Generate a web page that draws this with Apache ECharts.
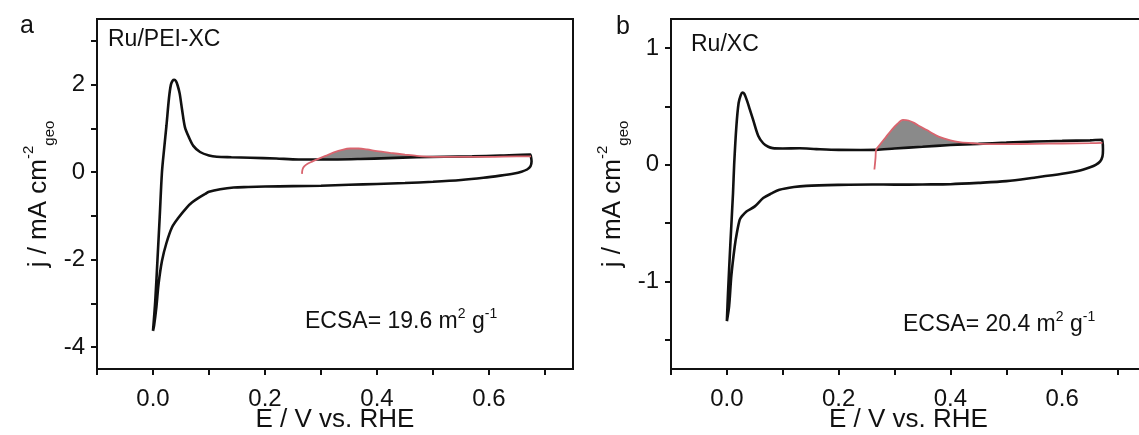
<!DOCTYPE html>
<html>
<head>
<meta charset="utf-8">
<script src="https://cdn.jsdelivr.net/npm/echarts@6/dist/echarts.min.js"></script>
<style>
  html, body { margin: 0; padding: 0; background: #fff; }
  #chart { width: 1139px; height: 435px; }
</style>
</head>
<body>
<div id="chart"></div>
<script>
// ---- Ru/PEI-XC: CV in N2 (E / V vs. RHE, j / mA cm-2) ----
// anodic sweep: from the lower vertex through the H-desorption peak to the upper vertex
const cvA_anodic = [
  [0.000, -3.63], [0.004, -2.95], [0.008, -2.00], [0.012, -1.02], [0.016, 0.00],
  [0.020, 0.55], [0.024, 1.06], [0.0286, 1.70], [0.032, 2.00], [0.035, 2.09],
  [0.038, 2.11], [0.041, 2.08], [0.044, 1.98], [0.0476, 1.80], [0.052, 1.42],
  [0.057, 1.03], [0.064, 0.80], [0.072, 0.60], [0.084, 0.46], [0.100, 0.38],
  [0.114, 0.35], [0.140, 0.34], [0.174, 0.33], [0.220, 0.31], [0.260, 0.29],
  [0.293, 0.29], [0.330, 0.29], [0.370, 0.30], [0.420, 0.32], [0.471, 0.34],
  [0.520, 0.35], [0.570, 0.36], [0.620, 0.38], [0.674, 0.40]
];
// cathodic sweep: from the upper vertex back to the lower vertex
const cvA_cathodic = [
  [0.675, 0.40], [0.676, 0.25], [0.674, 0.13], [0.668, 0.06], [0.658, 0.01],
  [0.645, -0.03], [0.620, -0.08], [0.590, -0.13], [0.550, -0.18], [0.500, -0.22],
  [0.450, -0.25], [0.400, -0.27], [0.350, -0.29], [0.300, -0.31], [0.250, -0.32],
  [0.200, -0.33], [0.170, -0.34], [0.144, -0.35], [0.120, -0.39], [0.100, -0.45],
  [0.093, -0.50], [0.080, -0.60], [0.070, -0.69], [0.061, -0.80], [0.045, -1.05],
  [0.034, -1.26], [0.024, -1.62], [0.016, -2.03], [0.010, -2.55], [0.006, -3.09],
  [0.002, -3.50], [0.000, -3.63]
];
// CO-stripping sweep
const coA_strip = [
  [0.266, -0.04], [0.267, 0.06], [0.270, 0.13], [0.276, 0.19], [0.284, 0.24],
  [0.293, 0.29], [0.308, 0.37], [0.323, 0.45], [0.338, 0.51], [0.352, 0.54],
  [0.367, 0.54], [0.382, 0.52], [0.400, 0.48], [0.424, 0.44], [0.450, 0.40],
  [0.471, 0.37], [0.500, 0.35], [0.550, 0.35], [0.600, 0.35], [0.650, 0.36],
  [0.675, 0.36]
];
const shadeA = [0.293, 0.50];

// ---- Ru/XC ----
const cvB_anodic = [
  [0.000, -1.34], [0.002, -1.10], [0.006, -0.70], [0.011, -0.24], [0.013, 0.00],
  [0.017, 0.33], [0.021, 0.53], [0.025, 0.60], [0.028, 0.62], [0.031, 0.61],
  [0.036, 0.55], [0.041, 0.475], [0.047, 0.385], [0.056, 0.25], [0.065, 0.185],
  [0.074, 0.155], [0.082, 0.143], [0.100, 0.14], [0.130, 0.142], [0.160, 0.135],
  [0.200, 0.128], [0.240, 0.127], [0.267, 0.128], [0.300, 0.14], [0.350, 0.155],
  [0.400, 0.17], [0.450, 0.18], [0.500, 0.19], [0.550, 0.20], [0.600, 0.205],
  [0.650, 0.21], [0.672, 0.215]
];
const cvB_cathodic = [
  [0.673, 0.215], [0.673, 0.13], [0.672, 0.07], [0.668, 0.03], [0.660, 0.00],
  [0.650, -0.02], [0.630, -0.05], [0.600, -0.077], [0.550, -0.11], [0.500, -0.14],
  [0.450, -0.155], [0.400, -0.166], [0.350, -0.168], [0.300, -0.170], [0.260, -0.168],
  [0.200, -0.172], [0.142, -0.18], [0.120, -0.19], [0.094, -0.214], [0.080, -0.245],
  [0.065, -0.285], [0.050, -0.356], [0.035, -0.40], [0.027, -0.44], [0.023, -0.47],
  [0.018, -0.58], [0.014, -0.70], [0.008, -0.95], [0.004, -1.21], [0.000, -1.34]
];
const coB_strip = [
  [0.264, -0.04], [0.266, 0.06], [0.267, 0.128], [0.275, 0.18], [0.285, 0.24],
  [0.295, 0.30], [0.305, 0.35], [0.315, 0.385], [0.325, 0.38], [0.335, 0.36],
  [0.345, 0.33], [0.357, 0.30], [0.370, 0.265], [0.380, 0.24], [0.400, 0.21],
  [0.416, 0.195], [0.440, 0.185], [0.452, 0.18], [0.500, 0.178], [0.550, 0.180],
  [0.600, 0.183], [0.650, 0.186], [0.672, 0.188]
];
const shadeB = [0.267, 0.45];

// ---- axes ----
const xTicks = [-0.1, 0, 0.1, 0.2, 0.3, 0.4, 0.5, 0.6, 0.7];
const xLabels = [0, 0.2, 0.4, 0.6];
const yTicksA = [-4, -3, -2, -1, 0, 1, 2, 3];
const yLabelsA = [-4, -2, 0, 2];
const yTicksB = [-1.5, -1, -0.5, 0, 0.5, 1];
const yLabelsB = [-1, 0, 1];

const FONT = '"Liberation Sans", Arial, sans-serif';
const INK = '#111';

function xAxis(gridIndex) {
  return {
    type: 'value', gridIndex: gridIndex, min: -0.1, max: 0.75,
    name: 'E / V vs. RHE', nameLocation: 'middle', nameGap: 38, nameMoveOverlap: false,
    nameTextStyle: { fontFamily: FONT, fontSize: 26, color: INK },
    axisLine: { show: true, onZero: false, lineStyle: { color: INK, width: 2 } },
    axisTick: { show: true, inside: false, length: 6, customValues: xTicks, lineStyle: { color: INK, width: 2 } },
    axisLabel: { customValues: xLabels, margin: 18, fontFamily: FONT, fontSize: 24, color: INK,
                 formatter: v => v.toFixed(1) },
    splitLine: { show: false }
  };
}
function yAxis(gridIndex, min, max, ticks, labels) {
  return {
    type: 'value', gridIndex: gridIndex, min: min, max: max,
    name: '{m|j / mA cm}{sup|-2}{sub|geo}', nameLocation: 'middle', nameRotate: 90, nameGap: 40,
    nameMoveOverlap: false,
    nameTextStyle: {
      fontFamily: FONT, fontSize: 26, color: INK,
      rich: {
        m: { fontFamily: FONT, fontSize: 26, color: INK, lineHeight: 36, verticalAlign: 'middle' },
        sup: { fontFamily: FONT, fontSize: 15, color: INK, verticalAlign: 'top' },
        sub: { fontFamily: FONT, fontSize: 15, color: INK, verticalAlign: 'bottom' }
      }
    },
    axisLine: { show: true, onZero: false, lineStyle: { color: INK, width: 2 } },
    axisTick: { show: true, inside: false, length: 6, customValues: ticks, lineStyle: { color: INK, width: 2 } },
    axisLabel: { customValues: labels, margin: 12, fontFamily: FONT, fontSize: 24, color: INK,
                 formatter: v => String(v) },
    splitLine: { show: false }
  };
}

function loopSeries(idx, anodic, cathodic) {
  return {
    type: 'line', xAxisIndex: idx, yAxisIndex: idx, z: 3,
    data: anodic.concat(cathodic), showSymbol: false, smooth: 0.3,
    lineStyle: { color: INK, width: 2.6 }, silent: true
  };
}
function stripSeries(idx, strip) {
  return {
    type: 'line', xAxisIndex: idx, yAxisIndex: idx, z: 4,
    data: strip, showSymbol: false, smooth: 0.3,
    lineStyle: { color: '#d9646e', width: 1.8 }, silent: true
  };
}
// grey area between the stripping peak and the base CV
function shadeSeries(idx, strip, anodic, range) {
  return {
    type: 'custom', xAxisIndex: idx, yAxisIndex: idx, z: 2, silent: true,
    data: [[range[0], 0]],
    renderItem: function (params, api) {
      const top = strip.filter(p => p[0] >= range[0] && p[0] <= range[1]);
      const base = anodic.filter(p => p[0] >= range[0] && p[0] <= range[1] && p[1] > 0).reverse();
      const pts = top.concat(base).map(p => api.coord(p));
      return { type: 'polygon', shape: { points: pts }, style: { fill: '#8a8a8a', stroke: null } };
    }
  };
}

function ecsaText(left, top, value) {
  return {
    type: 'text', left: left, top: top, style: {
      text: '{n|ECSA= ' + value + ' m}{s|2}{n| g}{s|-1}', fill: INK,
      rich: { n: { font: '23px ' + FONT, fill: INK, lineHeight: 30, verticalAlign: 'middle' },
              s: { font: '14px ' + FONT, fill: INK, verticalAlign: 'top' } }
    }
  };
}

const gridBase = { top: 19, height: 350, show: true, borderColor: INK, borderWidth: 2,
                   backgroundColor: 'transparent', containLabel: false, outerBoundsMode: 'none' };

const chart = echarts.init(document.getElementById('chart'), null, { renderer: 'canvas' });
chart.setOption({
  animation: false,
  backgroundColor: '#fff',
  grid: [
    Object.assign({ left: 97, width: 476 }, gridBase),
    Object.assign({ left: 671, width: 475 }, gridBase)
  ],
  xAxis: [xAxis(0), xAxis(1)],
  yAxis: [
    yAxis(0, -4.5, 3.5, yTicksA, yLabelsA),
    yAxis(1, -1.75, 1.25, yTicksB, yLabelsB)
  ],
  series: [
    shadeSeries(0, coA_strip, cvA_anodic, shadeA),
    loopSeries(0, cvA_anodic, cvA_cathodic),
    stripSeries(0, coA_strip),
    shadeSeries(1, coB_strip, cvB_anodic, shadeB),
    loopSeries(1, cvB_anodic, cvB_cathodic),
    stripSeries(1, coB_strip)
  ],
  graphic: [
    { type: 'text', left: 20, top: 14, style: { text: 'a', font: '25px ' + FONT, fill: INK } },
    { type: 'text', left: 616, top: 15, style: { text: 'b', font: '25px ' + FONT, fill: INK } },
    { type: 'text', left: 108, top: 28, style: { text: 'Ru/PEI-XC', font: '23px ' + FONT, fill: INK } },
    { type: 'text', left: 691, top: 33, style: { text: 'Ru/XC', font: '23px ' + FONT, fill: INK } },
    ecsaText(305, 307, '19.6'),
    ecsaText(903, 310, '20.4')
  ]
});
</script>
</body>
</html>
